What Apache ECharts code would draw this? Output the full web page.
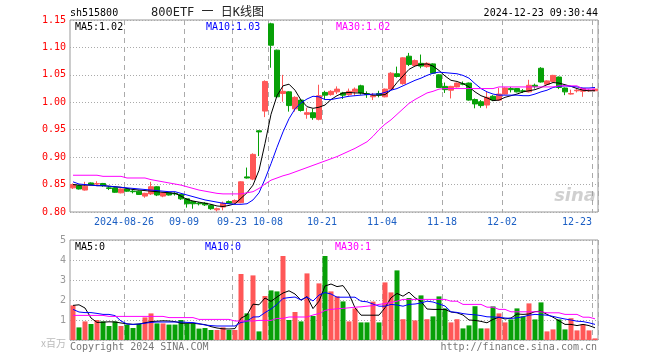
<!DOCTYPE html>
<html><head><meta charset="utf-8">
<script src="https://cdn.jsdelivr.net/npm/echarts@6/dist/echarts.min.js"></script>
<style>html,body{margin:0;padding:0;background:#fff}#c{width:660px;height:360px}</style>
</head><body><div id="c"></div>
<script>
const dates = ['2024-08-13','2024-08-14','2024-08-15','2024-08-16','2024-08-19','2024-08-20','2024-08-21','2024-08-22','2024-08-23',
'2024-08-26','2024-08-27','2024-08-28','2024-08-29','2024-08-30','2024-09-02','2024-09-03','2024-09-04','2024-09-05','2024-09-06',
'2024-09-09','2024-09-10','2024-09-11','2024-09-12','2024-09-13','2024-09-18','2024-09-19','2024-09-20',
'2024-09-23','2024-09-24','2024-09-25','2024-09-26','2024-09-27','2024-09-30',
'2024-10-08','2024-10-09','2024-10-10','2024-10-11','2024-10-14','2024-10-15','2024-10-16','2024-10-17','2024-10-18',
'2024-10-21','2024-10-22','2024-10-23','2024-10-24','2024-10-25','2024-10-28','2024-10-29','2024-10-30','2024-10-31','2024-11-01',
'2024-11-04','2024-11-05','2024-11-06','2024-11-07','2024-11-08','2024-11-11','2024-11-12','2024-11-13','2024-11-14','2024-11-15',
'2024-11-18','2024-11-19','2024-11-20','2024-11-21','2024-11-22','2024-11-25','2024-11-26','2024-11-27','2024-11-28','2024-11-29',
'2024-12-02','2024-12-03','2024-12-04','2024-12-05','2024-12-06','2024-12-09','2024-12-10','2024-12-11','2024-12-12','2024-12-13',
'2024-12-16','2024-12-17','2024-12-18','2024-12-19','2024-12-20','2024-12-23'];

const opens = [.844,.848,.840,.853,.851,.852,.844,.844,.835,.842,
.838,.838,.829,.833,.846,.829,.835,.834,.832,.824,
.819,.816,.816,.812,.804,.809,.819,.817,.817,.864,
.860,.948,.984,1.143,1.095,1.016,1.019,.988,1.004,.978,
.981,.969,1.018,1.014,1.019,1.017,1.014,1.019,1.030,1.016,
1.010,1.016,1.010,1.024,1.052,1.034,1.084,1.067,1.071,1.065,
1.070,1.050,1.029,1.022,1.028,1.034,1.035,1.005,1.001,.995,
1.011,1.004,1.015,1.025,1.025,1.021,1.019,1.031,1.062,1.033,
1.038,1.046,1.026,1.015,1.021,1.020,1.021,1.021];
const closes = [.850,.842,.847,.850,.852,.848,.843,.836,.842,.838,
.837,.832,.834,.846,.831,.835,.831,.833,.824,.815,
.815,.815,.813,.806,.806,.816,.816,.821,.855,.862,
.905,.946,1.038,1.104,1.010,1.020,.994,1.009,.985,.981,
.972,1.012,1.013,1.020,1.024,1.013,1.020,1.024,1.017,1.014,
1.012,1.013,1.024,1.053,1.047,1.081,1.069,1.076,1.066,1.071,
1.053,1.027,1.023,1.029,1.035,1.033,1.004,.997,.994,1.009,
1.004,1.015,1.026,1.023,1.019,1.020,1.031,1.029,1.037,1.039,
1.049,1.027,1.019,1.016,1.022,1.025,1.022,1.024];
const lows = [.842,.841,.839,.849,.849,.846,.840,.835,.834,.837,
.834,.831,.826,.831,.829,.827,.830,.830,.822,.808,
.806,.812,.811,.804,.801,.803,.815,.815,.816,.861,
.858,.902,.973,1.063,1.008,1.001,.983,.983,.983,.970,
.968,.967,1.005,1.012,1.015,1.006,1.012,1.012,1.014,1.008,
1.004,1.009,1.009,1.022,1.045,1.032,1.066,1.065,1.062,1.063,
1.052,1.026,1.017,1.007,1.027,1.031,1.003,.989,.990,.989,
1.002,1.003,1.014,1.018,1.018,1.017,1.018,1.025,1.036,1.032,
1.036,1.024,1.013,1.014,1.018,1.010,1.019,1.021];
const highs = [.852,.850,.855,.854,.856,.853,.847,.845,.843,.843,
.840,.839,.835,.855,.847,.836,.836,.836,.833,.825,
.820,.818,.818,.814,.808,.819,.821,.823,.856,.881,
.907,.949,1.040,1.145,1.096,1.050,1.020,1.011,1.006,.990,
.988,1.032,1.021,1.022,1.029,1.019,1.025,1.027,1.032,1.020,
1.017,1.021,1.025,1.055,1.065,1.082,1.090,1.078,1.087,1.073,
1.071,1.051,1.036,1.030,1.036,1.038,1.036,1.007,1.004,1.020,
1.013,1.026,1.027,1.028,1.026,1.024,1.041,1.034,1.064,1.040,
1.050,1.047,1.027,1.023,1.024,1.026,1.024,1.024];

const ma5 = [.850,.849,.849,.849,.848,.848,.847,.846,.845,.843,
.841,.840,.839,.838,.837,.836,.835,.834,.829,.823,
.820,.818,.816,.814,.811,.810,.812,.815,.825,.835,
.849,.876,.925,.978,1.012,1.030,1.033,1.022,1.004,.992,
.989,.991,.995,1.005,1.012,1.017,1.018,1.017,1.017,1.015,
1.013,1.013,1.014,1.022,1.036,1.048,1.060,1.066,1.069,1.070,
1.066,1.058,1.048,1.040,1.038,1.034,1.028,1.019,1.012,1.008,
1.003,1.004,1.009,1.012,1.015,1.019,1.021,1.023,1.027,1.032,
1.036,1.035,1.032,1.029,1.025,1.022,1.021,1.021];
const ma10 = [.855,.851,.850,.849,.848,.848,.847,.846,.845,.844,
.843,.842,.841,.840,.839,.838,.837,.837,.834,.831,
.828,.825,.822,.820,.818,.816,.815,.814,.814,.815,
.822,.835,.860,.888,.918,.946,.970,.988,.999,1.006,
1.011,1.010,1.005,1.005,1.007,1.009,1.011,1.012,1.013,1.014,
1.015,1.015,1.018,1.022,1.025,1.030,1.035,1.040,1.044,1.049,
1.053,1.055,1.054,1.053,1.052,1.049,1.044,1.034,1.025,1.019,
1.015,1.013,1.013,1.013,1.013,1.012,1.012,1.015,1.019,1.022,
1.027,1.029,1.030,1.029,1.028,1.026,1.026,1.027];
const ma30 = [.867,.867,.867,.867,.867,.865,.865,.865,.865,.862,
.862,.862,.862,.859,.857,.855,.853,.851,.849,.846,
.843,.840,.838,.836,.834,.833,.833,.833,.833,.835,
.837,.843,.851,.858,.862,.866,.869,.873,.877,.881,
.885,.889,.893,.897,.901,.906,.911,.916,.922,.928,
.938,.950,.960,.968,.978,.988,.998,1.005,1.011,1.017,
1.020,1.024,1.025,1.025,1.025,1.025,1.025,1.025,1.025,1.025,
1.025,1.028,1.028,1.028,1.028,1.028,1.028,1.028,1.028,1.028,
1.028,1.030,1.030,1.030,1.030,1.024,1.024,1.024];

const volumes = [1.73,0.63,0.93,0.80,1.00,0.93,0.70,0.93,0.70,0.77,
0.60,0.80,1.13,1.33,0.83,0.83,0.77,0.77,1.00,0.83,
0.83,0.57,0.60,0.50,0.50,0.63,0.50,0.50,3.30,1.33,
3.23,0.43,2.20,2.48,2.43,4.20,1.00,1.40,0.93,3.33,
1.20,2.83,4.20,2.43,2.18,1.93,0.93,1.58,0.88,0.88,
1.92,0.88,2.88,2.38,3.48,1.04,2.10,0.98,2.23,1.04,
1.18,2.18,1.58,0.88,1.04,0.58,0.73,1.69,0.58,0.58,
1.68,1.33,0.88,1.03,1.58,1.18,1.83,1.03,1.88,0.43,
0.53,1.03,0.53,1.09,0.48,0.78,0.48,0.08];
const vma5 = [1.73,1.76,1.60,1.10,0.88,0.89,0.91,0.90,0.85,0.81,
0.78,0.80,0.86,0.92,0.94,0.96,0.95,0.92,0.84,0.84,
0.84,0.80,0.77,0.67,0.60,0.56,0.55,0.57,1.09,1.25,
1.79,1.76,2.10,1.93,2.15,2.35,2.46,2.30,1.99,2.17,
1.57,1.94,2.70,2.80,2.67,2.72,2.30,1.61,1.24,1.24,
1.24,1.24,1.61,2.11,2.33,2.19,2.39,2.11,1.93,1.55,
1.53,1.53,1.53,1.40,1.36,1.25,1.00,0.98,0.93,0.86,
1.03,1.14,1.05,1.10,1.30,1.28,1.30,1.42,1.44,1.28,
1.14,0.96,0.78,0.78,0.72,0.78,0.72,0.61];
const vma10 = [1.53,1.40,1.37,1.37,1.33,1.28,1.28,1.22,0.95,0.80,
0.78,0.80,0.84,0.88,0.90,0.90,0.90,0.90,0.90,0.88,
0.87,0.82,0.75,0.72,0.70,0.70,0.70,0.70,0.88,0.93,
1.15,1.16,1.37,1.55,1.78,2.08,2.12,2.15,2.00,2.15,
1.95,2.25,2.37,2.30,2.14,2.14,2.14,2.14,1.94,1.91,
1.80,1.69,1.69,1.78,1.75,1.69,1.78,1.80,1.85,1.94,
1.90,1.80,1.70,1.41,1.38,1.32,1.28,1.26,1.22,1.16,
1.15,1.14,1.10,1.08,1.11,1.16,1.24,1.28,1.26,1.24,
1.18,1.11,1.05,1.00,0.94,0.92,0.86,0.78];
const vma30 = [1.23,1.23,1.23,1.23,1.23,1.23,1.18,1.18,1.18,1.18,
1.18,1.18,1.18,1.18,1.18,1.18,1.12,1.12,1.12,1.12,
1.12,1.03,1.03,1.03,1.03,1.03,1.03,0.95,0.95,0.95,
0.95,0.98,0.98,0.98,1.08,1.08,1.15,1.15,1.15,1.15,
1.25,1.32,1.48,1.53,1.56,1.58,1.61,1.64,1.66,1.69,
1.72,1.78,1.82,1.88,1.94,2.03,2.03,2.03,2.03,2.03,
2.03,2.03,2.03,1.94,1.94,1.78,1.78,1.78,1.78,1.64,
1.64,1.53,1.53,1.41,1.41,1.41,1.41,1.41,1.41,1.36,
1.36,1.36,1.28,1.28,1.28,1.14,1.14,1.06];

const tickDates = ['2024-08-26','2024-09-09','2024-09-23','2024-10-08','2024-10-21','2024-11-04','2024-11-18','2024-12-02','2024-12-23'];
const tickLabels = ['2024-08-26','09-09','09-23','10-08','10-21','11-04','11-18','12-02','12-23'];
const priceTicks = ['0.80','0.85','0.90','0.95','1.00','1.05','1.10','1.15'];
const volTicks = ['x百万','1','2','3','4','5'];

const UP = '#ff5757', DN = '#07a007';
const MONO = '"DejaVu Sans Mono", "Liberation Mono", monospace';
const ohlc = dates.map((d, i) => [opens[i], closes[i], lows[i], highs[i]]);
const volData = volumes.map((v, i) => ({ value: v, itemStyle: { color: closes[i] >= opens[i] ? UP : DN } }));
const isTick = (i) => tickDates.indexOf(dates[i]) >= 0;
const dashLine = { show: true, interval: (i) => isTick(i), lineStyle: { color: '#aaa', type: [5, 4], width: 1 } };

function txt(x, y, text, fill, size, align, fam) {
  return { type: 'text', x: x, y: y, silent: true, z: 100,
    style: { text: text, fill: fill, font: (size || 10) + 'px ' + (fam || MONO),
      align: align || 'left', verticalAlign: 'middle', textAlign: align || 'left', textVerticalAlign: 'middle' } };
}
function lineS(name, xi, data, color) {
  return { name: name, type: 'line', xAxisIndex: xi, yAxisIndex: xi, data: data, showSymbol: false, symbol: 'none',
    lineStyle: { color: color, width: 1 }, itemStyle: { color: color }, z: 5, silent: true };
}

const chart = echarts.init(document.getElementById('c'), null, { renderer: 'canvas' });
chart.setOption({
  animation: false,
  backgroundColor: '#ffffff',
  grid: [
    { left: 70, top: 20, width: 528, height: 192, show: true, borderColor: '#999', borderWidth: 1, backgroundColor: 'rgba(0,0,0,0)' },
    { left: 70, top: 240, width: 528, height: 100, show: true, borderColor: '#999', borderWidth: 1, backgroundColor: 'rgba(0,0,0,0)' }
  ],
  xAxis: [
    { type: 'category', gridIndex: 0, data: dates, boundaryGap: true,
      axisLine: { show: false }, axisTick: { show: false },
      axisLabel: { interval: (i) => isTick(i), margin: 5, color: '#1c5fc4', fontFamily: MONO, fontSize: 10,
        formatter: (v) => { const k = tickDates.indexOf(v); return k === tickDates.length - 1 ? '{e|' + tickLabels[k] + '}' : '{n|' + tickLabels[k] + '}'; },
        rich: { e: { padding: [0, 36, 0, 0], color: '#1c5fc4', fontFamily: MONO, fontSize: 10 },
                n: { padding: [0, 6, 0, 0], color: '#1c5fc4', fontFamily: MONO, fontSize: 10 } } },
      splitLine: dashLine },
    { type: 'category', gridIndex: 1, data: dates, boundaryGap: true,
      axisLine: { show: false }, axisTick: { show: false }, axisLabel: { show: false },
      splitLine: dashLine }
  ],
  yAxis: [
    { type: 'value', gridIndex: 0, min: 0.80, max: 1.15, interval: 0.05, scale: true,
      axisLine: { show: false }, axisTick: { show: false },
      axisLabel: { margin: 4, color: '#ff0000', fontFamily: MONO, fontSize: 10,
        formatter: (v) => priceTicks[Math.round((v - 0.80) / 0.05)] },
      splitLine: { show: true, lineStyle: { color: '#aaa', type: [1, 2], width: 1 } } },
    { type: 'value', gridIndex: 1, min: 0, max: 5, interval: 1,
      axisLine: { show: false }, axisTick: { show: false },
      axisLabel: { margin: 4, color: '#999', fontFamily: MONO, fontSize: 10,
        formatter: (v) => { const k = Math.round(v); return k === 0 ? '{u|' + volTicks[0] + '}' : volTicks[k]; },
        rich: { u: { color: '#bbb', fontSize: 10, fontFamily: '"Noto Sans CJK SC", ' + MONO, padding: [6, 0, 0, 0] } } },
      splitLine: { show: true, lineStyle: { color: '#aaa', type: [1, 2], width: 1 } } }
  ],
  series: [
    { name: 'K', type: 'candlestick', xAxisIndex: 0, yAxisIndex: 0, data: ohlc, barWidth: 5,
      itemStyle: { color: UP, color0: DN, borderColor: UP, borderColor0: DN, borderWidth: 1 }, z: 3, silent: true },
    lineS('MA5', 0, ma5, '#000000'),
    lineS('MA10', 0, ma10, '#0000ff'),
    lineS('MA30', 0, ma30, '#ff00ff'),
    { name: 'VOL', type: 'bar', xAxisIndex: 1, yAxisIndex: 1, data: volData, barWidth: 5, z: 3, silent: true },
    lineS('VMA5', 1, vma5, '#000000'),
    lineS('VMA10', 1, vma10, '#0000ff'),
    lineS('VMA30', 1, vma30, '#ff00ff')
  ],
  graphic: [
    txt(70, 13, 'sh515800', '#000', 10),
    txt(151, 13, '800ETF 一 日K线图', '#222', 12, 'left', '"DejaVu Sans Mono", "Noto Sans CJK SC", monospace'),
    txt(598, 13, '2024-12-23 09:30:44', '#000', 10, 'right'),
    txt(75, 27, 'MA5:1.02', '#000', 10),
    txt(206, 27, 'MA10:1.03', '#0000ff', 10),
    txt(336, 27, 'MA30:1.02', '#ff00ff', 10),
    txt(75, 247, 'MA5:0', '#000', 10),
    txt(205, 247, 'MA10:0', '#0000ff', 10),
    txt(335, 247, 'MA30:1', '#ff00ff', 10),
    txt(70, 347, 'Copyright 2024 SINA.COM', '#777', 10),
    txt(597, 347, 'http://finance.sina.com.cn', '#777', 10, 'right'),
    { type: 'text', x: 596, y: 196, silent: true, z: 1,
      style: { text: 'sina', fill: 'rgba(150,150,150,0.45)', font: 'italic bold 18px "DejaVu Sans", sans-serif',
        align: 'right', verticalAlign: 'middle', textAlign: 'right', textVerticalAlign: 'middle' } }
  ]
});
</script>
</body></html>
